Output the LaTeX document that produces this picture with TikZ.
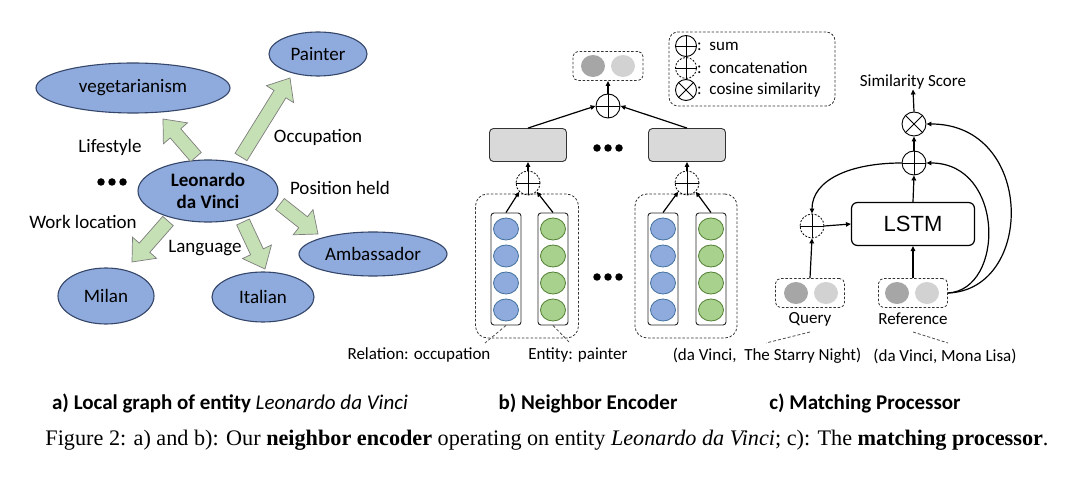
\documentclass[tikz,border=0pt]{standalone}
\usepackage{fontspec}
\setmainfont{Carlito}
\newfontfamily\capfont{Liberation Serif}
\newfontfamily\lstmfont{Liberation Sans}
\usetikzlibrary{shapes.geometric,arrows.meta,calc}
\definecolor{ellfill}{RGB}{143,170,220}
\definecolor{elldraw}{RGB}{52,70,105}
\definecolor{bagreen}{RGB}{197,224,180}
\definecolor{badraw}{RGB}{125,125,125}
\definecolor{bfill}{RGB}{143,170,220}
\definecolor{bdraw}{RGB}{65,113,156}
\definecolor{gfill}{RGB}{169,209,142}
\definecolor{gdraw}{RGB}{80,126,50}
\definecolor{boxgray}{RGB}{217,217,217}
\definecolor{darkc}{RGB}{166,166,166}
\definecolor{lightc}{RGB}{210,210,210}
\newcommand{\blockarr}[2]{%
  \coordinate (hb) at ($(#2)!19pt!(#1)$);
  \draw[blockarrow] ($(#1)!7pt!90:(#2)$) -- ($(hb)!7pt!90:(#2)$) -- ($(hb)!16pt!90:(#2)$) -- (#2) -- ($(hb)!16pt!-90:(#2)$) -- ($(hb)!7pt!-90:(#2)$) -- ($(#1)!7pt!-90:(#2)$) -- cycle;}
\tikzset{
  ent/.style={ellipse, draw=elldraw, line width=1.1pt, fill=ellfill, inner sep=0pt, font=\fontsize{19}{22}\selectfont},
  blockarrow/.style={draw=badraw, line width=0.7pt, fill=bagreen, line join=miter},
  lbl/.style={font=\fontsize{19}{22}\selectfont, inner sep=0pt},
  sml/.style={font=\fontsize{17}{20}\selectfont, inner sep=0pt},
  dashbox/.style={draw=black!80, dash pattern=on 2.5pt off 1.8pt, line width=0.8pt, rounded corners=5pt},
  colbox/.style={draw=black!85, line width=0.9pt, fill=white, rounded corners=3pt, minimum width=30pt, minimum height=112pt, inner sep=0pt},
  bcirc/.style={ellipse, draw=bdraw, line width=0.8pt, fill=bfill, minimum width=25pt, minimum height=22pt, inner sep=0pt},
  gcirc/.style={ellipse, draw=gdraw, line width=0.8pt, fill=gfill, minimum width=25pt, minimum height=22pt, inner sep=0pt},
  dcirc/.style={ellipse, fill=darkc, minimum width=24pt, minimum height=22pt, inner sep=0pt},
  lcirc/.style={ellipse, fill=lightc, minimum width=24pt, minimum height=22pt, inner sep=0pt},
  graybox/.style={draw=black!80, line width=0.9pt, fill=boxgray, rounded corners=4pt, minimum width=77pt, minimum height=33pt, inner sep=0pt},
  op/.style={circle, draw=black, line width=0.9pt, minimum size=24pt, inner sep=0pt},
  opd/.style={circle, draw=black, line width=0.8pt, dash pattern=on 2pt off 1.5pt, minimum size=24pt, inner sep=0pt},
  arr/.style={-{Triangle[length=5pt,width=4.5pt]}, line width=1.2pt},
  dotc/.style={circle, fill=black, minimum size=7.5pt, inner sep=0pt},
  thin dash/.style={draw=black!70, dash pattern=on 3pt off 2pt, line width=0.8pt},
}
\begin{document}
\begin{tikzpicture}[x=1pt,y=-1pt]
\useasboundingbox (0,0) rectangle (1080,478);
% ---------------- panel a ----------------
\node[ent, minimum width=98pt, minimum height=44pt] (painter) at (318,54) {Painter};
\node[ent, minimum width=194pt, minimum height=50pt] (veg) at (133,88) {vegetarianism};
\node[ent, minimum width=140pt, minimum height=62pt, align=center, font=\fontsize{19}{22}\selectfont\bfseries] (leo) at (208,191) {Leonardo\\da Vinci};
\node[ent, minimum width=148pt, minimum height=44pt] (amb) at (373,254) {Ambassador};
\node[ent, minimum width=96pt, minimum height=56pt] (milan) at (106,296) {Milan};
\node[ent, minimum width=102pt, minimum height=50pt] (ital) at (263,297) {Italian};
\coordinate (vegT) at (196,157); \coordinate (vegH) at (163,119);
\coordinate (paiT) at (241,157); \coordinate (paiH) at (290,78);
\coordinate (ambT) at (280,204); \coordinate (ambH) at (318,234);
\coordinate (itaT) at (243,222); \coordinate (itaH) at (265,269);
\coordinate (milT) at (168,221); \coordinate (milH) at (132,262);
\blockarr{vegT}{vegH}
\blockarr{paiT}{paiH}
\blockarr{ambT}{ambH}
\blockarr{itaT}{itaH}
\blockarr{milT}{milH}
\node[lbl] (lLife) at (110,147) {Lifestyle};
\node[lbl] (lOcc) at (318,137) {Occupation};
\node[lbl] (lPos) at (340,188) {Position held};
\node[lbl] (lWork) at (83,222) {Work location};
\node[lbl] (lLang) at (205,248) {Language};
\node[dotc] (ad1) at (101,182) {}; \node[dotc] (ad2) at (112,182) {}; \node[dotc] (ad3) at (123,182) {};
% ---------------- panel b ----------------
\node[dashbox, minimum width=70pt, minimum height=29pt] (outb) at (608,66) {};
\node[dcirc] (outd) at (593,66) {}; \node[lcirc] (outl) at (623,66) {};
\node[op] (sum1) at (608,106) {};
\draw[line width=0.9pt] (sum1.north) -- (sum1.south) (sum1.west) -- (sum1.east);
\node[graybox] (box1) at (528,145) {};
\node[graybox] (box2) at (687,145) {};
\node[dotc] (bd1) at (597,148) {}; \node[dotc] (bd2) at (608,148) {}; \node[dotc] (bd3) at (619,148) {};
\node[dotc] (bd4) at (597,277) {}; \node[dotc] (bd5) at (608,277) {}; \node[dotc] (bd6) at (619,277) {};
\node[dashbox, rounded corners=12pt, minimum width=103pt, minimum height=144pt] (grp1) at (527,266) {};
\node[dashbox, rounded corners=12pt, minimum width=102pt, minimum height=144pt] (grp2) at (686,266) {};
\foreach \gx/\gn/\gc in {506/a/bcirc,553/b/gcirc,663/c/bcirc,711/d/gcirc}{
  \node[colbox] (col\gn) at (\gx,269) {};
  \foreach \cy [count=\i] in {229,256,283,310}
    \node[\gc] (col\gn\i) at (\gx,\cy) {};
}
\node[opd] (cat1) at (528,183) {};
\node[opd] (cat2) at (687,183) {};
\foreach \c in {cat1,cat2}
  \draw[line width=0.9pt] (\c.north) -- (\c.south) (\c.west) -- (\c.east);
\draw[arr] (cola.north) -- (cat1.south west);
\draw[arr] (colb.north) -- (cat1.south east);
\draw[arr] (colc.north) -- (cat2.south west);
\draw[arr] (cold.north) -- (cat2.south east);
\draw[arr] (cat1.north) -- (box1.south);
\draw[arr] (cat2.north) -- (box2.south);
\draw[arr] (box1.north) -- (sum1.west);
\draw[arr] (box2.north) -- (sum1.east);
\draw[arr] (sum1.north) -- (outb.south);
% legend
\node[dashbox, rounded corners=9pt, minimum width=166pt, minimum height=74pt] (leg) at (752,69) {};
\node[op, minimum size=21pt] (lgs) at (686,46) {};
\draw[line width=0.9pt] (lgs.north) -- (lgs.south) (lgs.west) -- (lgs.east);
\node[opd, minimum size=21pt] (lgc) at (686,68) {};
\draw[line width=0.9pt] (lgc.north) -- (lgc.south) (lgc.west) -- (lgc.east);
\node[op, minimum size=21pt] (lgx) at (686,90) {};
\draw[line width=0.9pt] (lgx.north west) -- (lgx.south east) (lgx.north east) -- (lgx.south west);
\node[sml, anchor=west] (lgst) at (697,46) {:\ \ sum};
\node[sml, anchor=west] (lgct) at (697,68) {:\ \ concatenation};
\node[sml, anchor=west] (lgxt) at (697,90) {:\ \ cosine similarity};
% labels
\node[sml] (lrel) at (419,355) {Relation: occupation};
\node[sml] (lent) at (578,355) {Entity: painter};
\coordinate (rl1) at (485,343); \coordinate (el1) at (570,343);
\draw[thin dash] (cola.south) -- (rl1);
\draw[thin dash] (colb.south) -- (el1);
% ---------------- panel c ----------------
\node[sml] (sim) at (913,82) {Similarity Score};
\node[op] (cos) at (914,124) {};
\draw[line width=0.9pt] (cos.north west) -- (cos.south east) (cos.north east) -- (cos.south west);
\node[op] (sum2) at (914,163) {};
\draw[line width=0.9pt] (sum2.north) -- (sum2.south) (sum2.west) -- (sum2.east);
\node[draw=black, line width=1.2pt, rounded corners=6pt, minimum width=123pt, minimum height=43pt, inner sep=0pt, font=\lstmfont\fontsize{22}{24}\selectfont] (lstm) at (913,224) {LSTM};
\node[opd] (cat3) at (812,226) {};
\draw[line width=0.9pt] (cat3.north) -- (cat3.south) (cat3.west) -- (cat3.east);
\node[dashbox, minimum width=69pt, minimum height=29pt] (qry) at (810,293) {};
\node[dcirc] (qd) at (796,293) {}; \node[lcirc] (ql) at (826,293) {};
\node[dashbox, minimum width=69pt, minimum height=29pt] (ref) at (913,293) {};
\node[dcirc] (rd) at (897,293) {}; \node[lcirc] (rl) at (927,293) {};
\node[sml] (lq) at (810,319) {Query};
\node[sml] (lr) at (913,319) {Reference};
\node[sml] (tq) at (767,356) {(da Vinci,\ \ The Starry Night)};
\node[sml] (tr) at (945,356) {(da Vinci, Mona Lisa)};
\coordinate (q1) at (810,332); \coordinate (q2) at (766,343);
\coordinate (r1) at (913,332); \coordinate (r2) at (948,343);
\draw[thin dash] (q1) -- (q2);
\draw[thin dash] (r1) -- (r2);
\draw[arr] (qry.north) -- (cat3.south);
\draw[arr] (cat3.east) -- (lstm.west);
\draw[arr] (ref.north) -- (lstm.south);
\draw[arr] (lstm.north) -- (sum2.south);
\draw[arr] (sum2.north) -- (cos.south);
\draw[arr] (cos.north) -- (sim.south);
\draw[arr] (sum2.west) .. controls (850,163) and (812,180) .. (cat3.north);
\draw[arr] (ref.east) .. controls (1005,290) and (1005,163) .. (sum2.east);
\draw[arr] (ref.east) .. controls (1035,290) and (1035,124) .. (cos.east);
% ---------------- captions ----------------
\node[inner sep=0pt, font=\fontsize{21}{24}\selectfont\bfseries] (capa) at (230,403) {a) Local graph of entity \textmd{\itshape Leonardo da Vinci}};
\node[inner sep=0pt, font=\fontsize{21}{24}\selectfont\bfseries] (capb) at (588,403) {b) Neighbor Encoder};
\node[inner sep=0pt, font=\fontsize{21}{24}\selectfont\bfseries] (capc) at (865,403) {c) Matching Processor};
\node[inner sep=0pt] (fig) at (547,440) {\resizebox{1003pt}{!}{\capfont\fontsize{20}{22}\selectfont Figure 2: a) and b): Our \textbf{neighbor encoder} operating on entity \textit{Leonardo da Vinci}; c): The \textbf{matching processor}.}};
\end{tikzpicture}
\end{document}
